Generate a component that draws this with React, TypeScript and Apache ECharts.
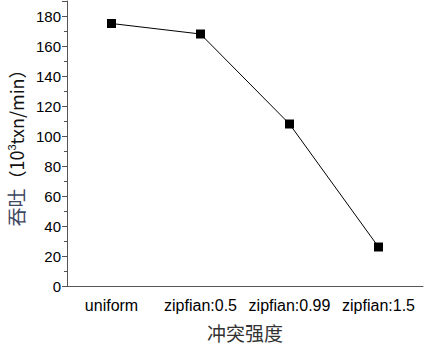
import React, { useEffect, useRef } from "react";
import * as echarts from "echarts";

const categories = ["uniform", "zipfian:0.5", "zipfian:0.99", "zipfian:1.5"];
const throughput = [175, 168, 108, 26];
const yTicks = { min: 0, max: 190, interval: 20 };

export default function App() {
  const ref = useRef<HTMLDivElement>(null);
  useEffect(() => {
    if (!ref.current) return;
    const chart = echarts.init(ref.current, undefined, { renderer: "svg" });
    const latin = '"Liberation Sans", Arial, sans-serif';
    const cjk = '"Noto Sans CJK SC", sans-serif';
    chart.setOption({
      animation: false,
      backgroundColor: "#ffffff",
      grid: { left: 67, right: 1, top: 1, bottom: 60, containLabel: false, outerBoundsMode: "none" },
      xAxis: [
        {
          type: "category",
          data: categories,
          position: "bottom",
          axisLine: { lineStyle: { color: "#555", width: 1 } },
          axisTick: { alignWithLabel: true, length: 6, lineStyle: { color: "#555" } },
          axisLabel: { color: "#000", fontFamily: latin, fontSize: 16, margin: 11, interval: 0, hideOverlap: false },
          name: "冲突强度",
          nameLocation: "middle",
          nameGap: 37,
          nameTextStyle: { color: "#333", fontFamily: cjk, fontSize: 19 },
        },
        {
          type: "category",
          data: categories,
          position: "bottom",
          axisLine: { show: false },
          axisTick: { length: 3, lineStyle: { color: "#555" } },
          axisLabel: { show: false },
        },
      ],
      yAxis: {
        type: "value",
        min: yTicks.min,
        max: yTicks.max,
        interval: yTicks.interval,
        axisLine: { show: true, lineStyle: { color: "#555", width: 1 } },
        axisTick: { show: true, length: 5, lineStyle: { color: "#555" } },
        minorTick: { show: true, splitNumber: 2, length: 3, lineStyle: { color: "#555" } },
        splitLine: { show: false },
        axisLabel: {
          color: "#000",
          fontFamily: latin,
          fontSize: 15,
          margin: 6,
          showMaxLabel: false,
          formatter: (v: number) => (v % 20 === 0 ? String(v) : ""),
        },
        name: "{a|吞吐}{b|（10}{s|3}{b|txn/min）}",
        nameLocation: "middle",
        nameGap: 38,
        nameRotate: 90,
        nameTextStyle: {
          rich: {
            a: { color: "#3d4760", fontFamily: cjk, fontSize: 19 },
            b: { color: "#111", fontFamily: cjk, fontSize: 18 },
            s: { color: "#111", fontFamily: latin, fontSize: 11, verticalAlign: "top" },
          },
        },
      },
      series: [
        {
          type: "line",
          data: throughput,
          xAxisIndex: 0,
          symbol: "rect",
          symbolSize: 9,
          itemStyle: { color: "#000" },
          lineStyle: { color: "#000", width: 1 },
        },
      ],
    });
    return () => chart.dispose();
  }, []);
  return <div ref={ref} style={{ width: 424, height: 346, position: "absolute", left: 0, top: 0 }} />;
}
